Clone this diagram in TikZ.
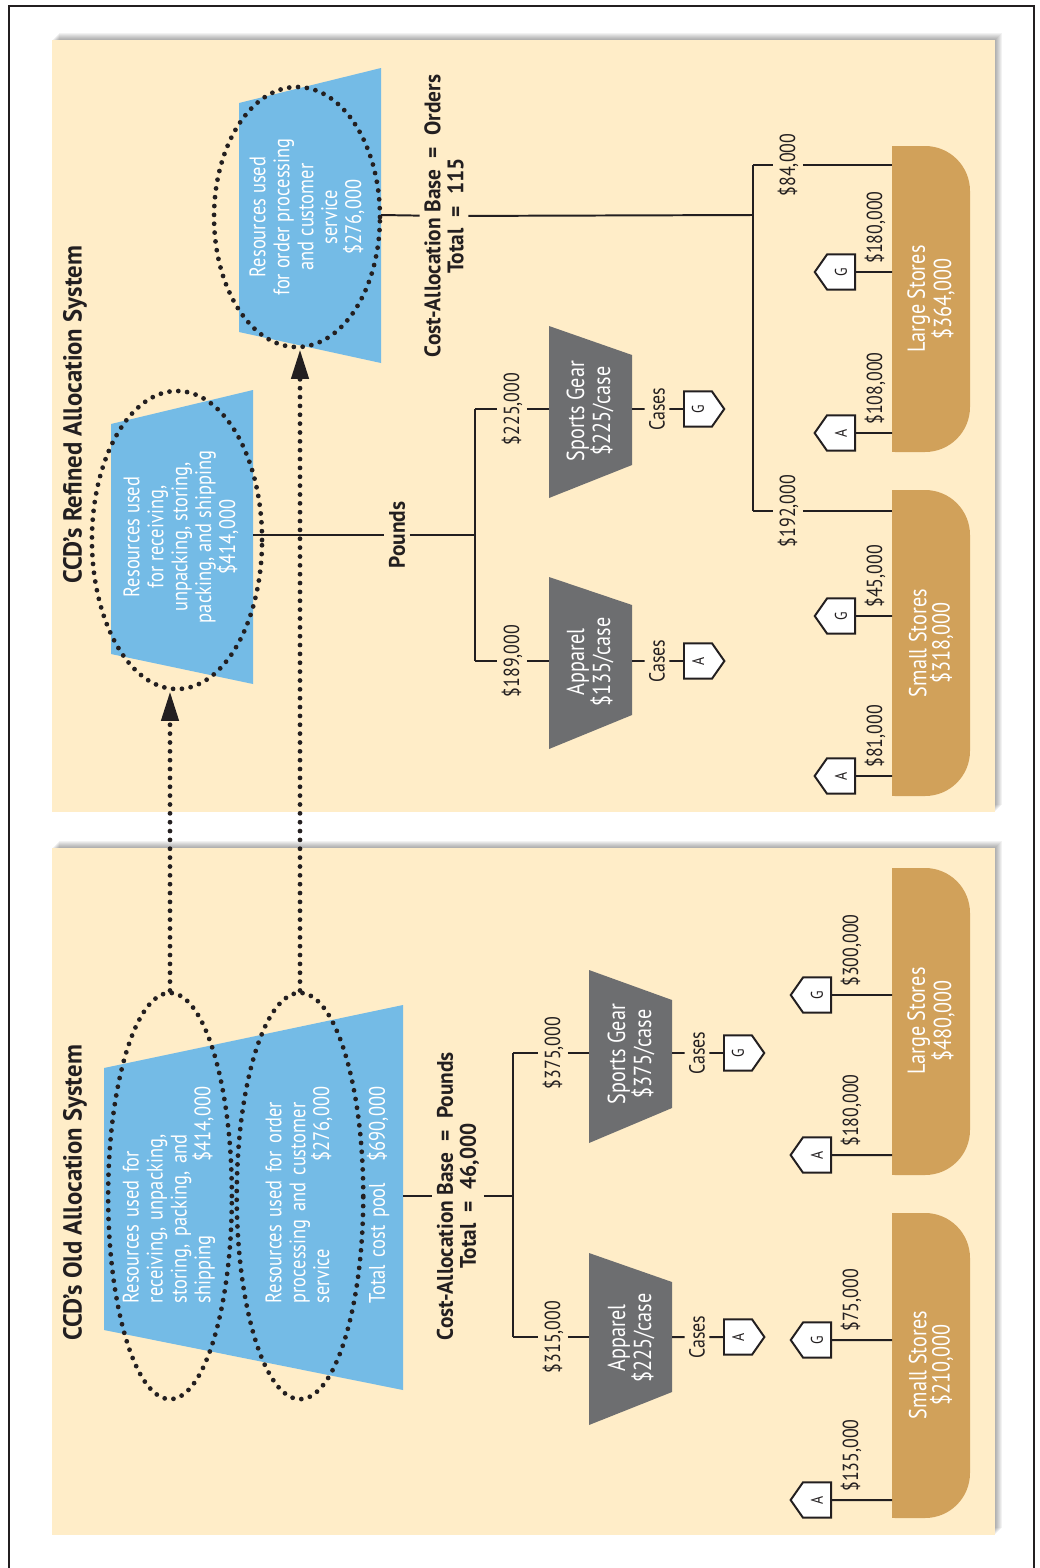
\documentclass[tikz,border=0pt]{standalone}
\usepackage{fontspec}
\setmainfont{PT Sans}[FakeStretch=0.82, BoldFeatures={FakeStretch=0.95}]
\usetikzlibrary{arrows.meta}
\usetikzlibrary{shapes.geometric}
\usetikzlibrary{shapes.symbols}

\definecolor{cream}{RGB}{255,237,200}
\definecolor{poolblue}{RGB}{116,187,230}
\definecolor{prodgray}{RGB}{109,110,112}
\definecolor{storetan}{RGB}{209,161,90}
\definecolor{ink}{RGB}{35,31,32}

\newcommand{\spread}{\hskip 0pt plus 1fill\relax}
\newcommand{\eqsign}{\enspace=\enspace}

\tikzset{
  conn/.style={draw=ink, line width=1.4pt},
  dotty/.style={draw=ink, line width=3.4pt, line cap=round, dash pattern=on 0pt off 6.3pt},
  ring/.style={dotty, ellipse, inner sep=0pt},
  txt/.style={rotate=90, font=\fontsize{15.5}{17}\selectfont, text=ink, inner sep=3pt},
  wtxt/.style={txt, text=white, align=center, font=\fontsize{16}{17}\selectfont},
  boxtxt/.style={wtxt, font=\fontsize{17.5}{16.5}\selectfont},
  boldlbl/.style={txt, font=\fontsize{16}{16.5}\selectfont\bfseries, align=center},
  heading/.style={txt, font=\fontsize{18.5}{20}\selectfont\bfseries},
  tagshape/.style={signal, draw=ink, fill=white, line width=1.4pt, rotate=90, inner sep=0pt,
    minimum width=25pt, minimum height=22pt, signal pointer angle=110,
    font=\fontsize{12}{12}\selectfont, text=ink},
  prodtag/.style={tagshape, signal to=south, anchor=north},
  storetag/.style={tagshape, signal to=north, anchor=south},
  amt/.style={txt, anchor=west},
}

\begin{document}
\begin{tikzpicture}[x=0.25mm, y=-0.25mm]
\useasboundingbox (0,0) rectangle (1040,1568);

% outer frame
\draw[ink, line width=1.5pt] (9,1568) -- (9,6) -- (1034,6) -- (1034,1568);

% panels with soft shadow
\foreach \a/\b in {40/812, 848/1535} {
  \foreach \d in {1,...,7}
    \fill[black, opacity=0.05] (52+\d,\a-\d) rectangle (995+\d,\b-\d);
  \fill[cream] (52,\a) rectangle (995,\b);
}

%%%%%%%%%%%%%%%% old system
\node[heading] (oldtitle) at (75,1193) {CCD’s Old Allocation System};

\fill[poolblue] (104,1068) -- (403,1005) -- (403,1390) -- (104,1330) -- cycle;
\coordinate (oldpoolR) at (403,1196);
\node[wtxt, text width=154pt, align=left] (oldrecvtxt) at (169,1195)
  {Resources used for\\receiving, unpacking,\\storing, packing, and\\shipping\spread\$414,000};
\node[wtxt, text width=154pt, align=left] (oldordtxt) at (299,1195)
  {Resources used for order\\processing and customer\\service\spread\$276,000};
\node[wtxt, text width=154pt, align=left] (oldtotal) at (378,1195)
  {Total cost pool\spread\$690,000};
\node[ring, minimum width=88pt, minimum height=289pt] (oldrecv) at (170,1196) {};
\node[ring, minimum width=90pt, minimum height=289pt] (oldord) at (300,1196) {};

\node[boldlbl] (oldbase) at (458,1196) {Cost-Allocation Base\eqsign Pounds\\Total\eqsign 46,000};
\coordinate (oldsplit) at (513,1196);
\draw[conn] (oldpoolR) -- (oldbase) -- (oldsplit);

% products
\fill[prodgray] (589,970) -- (672,1000) -- (672,1108) -- (589,1143) -- cycle;
\fill[prodgray] (589,1253) -- (672,1282) -- (672,1392) -- (589,1425) -- cycle;
\node[boxtxt] (oldsg) at (631,1054) {Sports Gear\\\$375/case};
\node[boxtxt] (oldap) at (631,1338) {Apparel\\\$225/case};
\coordinate (oldsgL) at (589,1053);
\coordinate (oldapL) at (589,1337);
\coordinate (oldsgR) at (672,1053);
\coordinate (oldapR) at (672,1337);
\draw[conn] (oldsgL -| oldsplit) -- (oldapL -| oldsplit);
\node[txt] (oldsgcost) at (553,1053) {\$375,000};
\node[txt] (oldapcost) at (553,1337) {\$315,000};
\draw[conn] (oldsgL -| oldsplit) -- (oldsgcost) -- (oldsgL);
\draw[conn] (oldapL -| oldsplit) -- (oldapcost) -- (oldapL);
\node[txt] (oldsgcases) at (697,1053) {Cases};
\node[txt] (oldapcases) at (697,1337) {Cases};
\node[prodtag] (oldsgtag) at (723,1053) {G};
\node[prodtag] (oldaptag) at (723,1337) {A};
\draw[conn] (oldsgR) -- (oldsgcases) -- (oldsgtag);
\draw[conn] (oldapR) -- (oldapcases) -- (oldaptag);

% stores
\begin{scope}
  \clip (892,840) rectangle (1000,1540);
  \fill[storetan, rounded corners=32pt] (850,868) rectangle (970,1175);
  \fill[storetan, rounded corners=32pt] (850,1213) rectangle (970,1518);
\end{scope}
\node[boxtxt] (oldlarge) at (931,1021) {Large Stores\\\$480,000};
\node[boxtxt] (oldsmall) at (931,1365) {Small Stores\\\$210,000};
\coordinate (oldlgE) at (892,1021);
\coordinate (oldsmE) at (892,1365);
\node[storetag] (oldlgG) at (832,995) {G};
\node[storetag] (oldlgA) at (832,1155) {A};
\node[storetag] (oldsmG) at (832,1340) {G};
\node[storetag] (oldsmA) at (832,1500) {A};
\foreach \t in {oldlgG, oldlgA} \draw[conn] (\t) -- (\t -| oldlgE);
\foreach \t in {oldsmG, oldsmA} \draw[conn] (\t) -- (\t -| oldsmE);
\node[amt] (oldlgGamt) at (851,991) {\$300,000};
\node[amt] (oldlgAamt) at (851,1151) {\$180,000};
\node[amt] (oldsmGamt) at (851,1336) {\$75,000};
\node[amt] (oldsmAamt) at (851,1496) {\$135,000};

%%%%%%%%%%%%%%%% refined system
\node[heading] (newtitle) at (75,415) {CCD’s Refined Allocation System};

\fill[poolblue] (111,424) -- (253,390) -- (253,684) -- (111,654) -- cycle;
\fill[poolblue] (239,103) -- (381,68) -- (381,363) -- (239,332) -- cycle;
\node[wtxt] (newrecvtxt) at (181,537)
  {Resources used\\for receiving,\\unpacking, storing,\\packing, and shipping\\\$414,000};
\node[wtxt] (newordtxt) at (307,217)
  {Resources used\\for order processing\\and customer\\service\\\$276,000};
\node[ring, minimum width=121pt, minimum height=212pt] (newrecv) at (177,540) {};
\node[ring, minimum width=118pt, minimum height=185pt] (neword) at (297,217) {};

% pounds branch
\coordinate (newrecvR) at (253,535);
\node[boldlbl] (pounds) at (397,535) {Pounds};
\coordinate (newsplit) at (475,535);
\draw[conn] (newrecvR) -- (pounds) -- (newsplit);
\fill[prodgray] (549,326) -- (632,355) -- (632,465) -- (549,498) -- cycle;
\fill[prodgray] (549,577) -- (632,605) -- (632,715) -- (549,749) -- cycle;
\node[boxtxt] (newsg) at (590,411) {Sports Gear\\\$225/case};
\node[boxtxt] (newap) at (590,662) {Apparel\\\$135/case};
\coordinate (newsgL) at (549,409);
\coordinate (newapL) at (549,661);
\coordinate (newsgR) at (632,409);
\coordinate (newapR) at (632,661);
\draw[conn] (newsgL -| newsplit) -- (newapL -| newsplit);
\node[txt] (newsgcost) at (512,409) {\$225,000};
\node[txt] (newapcost) at (512,661) {\$189,000};
\draw[conn] (newsgL -| newsplit) -- (newsgcost) -- (newsgL);
\draw[conn] (newapL -| newsplit) -- (newapcost) -- (newapL);
\node[txt] (newsgcases) at (657,409) {Cases};
\node[txt] (newapcases) at (657,661) {Cases};
\node[prodtag] (newsgtag) at (683,409) {G};
\node[prodtag] (newaptag) at (683,661) {A};
\draw[conn] (newsgR) -- (newsgcases) -- (newsgtag);
\draw[conn] (newapR) -- (newapcases) -- (newaptag);

% orders branch
\coordinate (newordR) at (381,215);
\node[boldlbl] (newbase) at (444,216) {Cost-Allocation Base\eqsign Orders\\Total\eqsign 115};
\coordinate (newsplit2) at (753,215);
\draw[conn] (newordR) -- (newbase) -- (newsplit2);
\begin{scope}
  \clip (892,30) rectangle (1000,812);
  \fill[storetan, rounded corners=32pt] (850,146) rectangle (970,452);
  \fill[storetan, rounded corners=32pt] (850,490) rectangle (970,796);
\end{scope}
\node[boxtxt] (newlarge) at (931,299) {Large Stores\\\$364,000};
\node[boxtxt] (newsmall) at (931,643) {Small Stores\\\$318,000};
\coordinate (newlgE) at (892,165);
\coordinate (newsmE) at (892,511);
\draw[conn] (newlgE -| newsplit2) -- (newsmE -| newsplit2);
\node[txt] (newlgcost) at (788,165) {\$84,000};
\node[txt] (newsmcost) at (788,511) {\$192,000};
\draw[conn] (newlgE -| newsplit2) -- (newlgcost) -- (newlgE);
\draw[conn] (newsmE -| newsplit2) -- (newsmcost) -- (newsmE);
\node[storetag] (newlgG) at (856,272) {G};
\node[storetag] (newlgA) at (856,433) {A};
\node[storetag] (newsmG) at (856,616) {G};
\node[storetag] (newsmA) at (856,776) {A};
\foreach \t in {newlgG, newlgA} \draw[conn] (\t) -- (\t -| newlgE);
\foreach \t in {newsmG, newsmA} \draw[conn] (\t) -- (\t -| newsmE);
\node[amt] (newlgGamt) at (875,268) {\$180,000};
\node[amt] (newlgAamt) at (875,429) {\$108,000};
\node[amt] (newsmGamt) at (875,612) {\$45,000};
\node[amt] (newsmAamt) at (875,772) {\$81,000};

% old pools feed the refined pools
\draw[dotty, -{Triangle[length=21pt, width=12pt]}] (oldrecv.north) -- (oldrecv.north |- newrecv.south);
\draw[dotty, -{Triangle[length=21pt, width=12pt]}] (oldord.north) -- (oldord.north |- neword.south);
\end{tikzpicture}
\end{document}
